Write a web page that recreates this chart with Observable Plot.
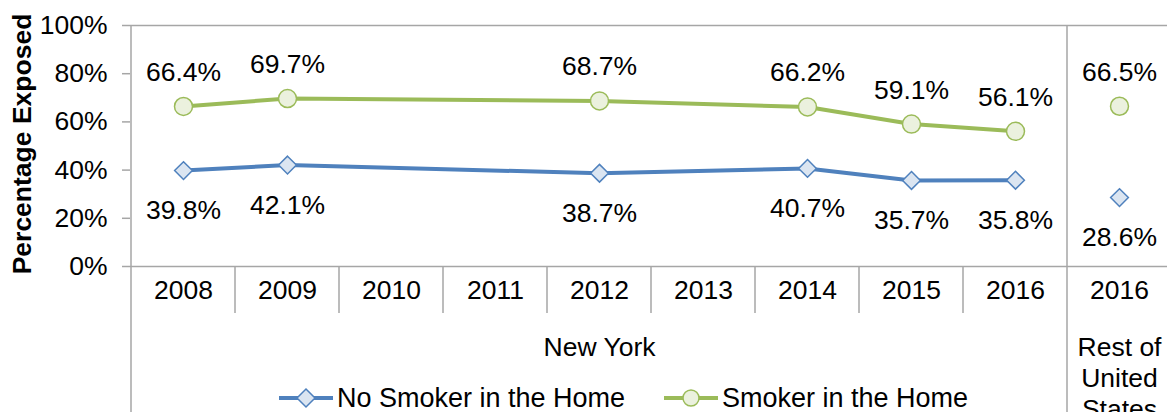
<!DOCTYPE html>
<html><head><meta charset="utf-8">
<script src="https://cdn.jsdelivr.net/npm/d3@7"></script>
<script src="https://cdn.jsdelivr.net/npm/@observablehq/plot@0.6"></script>
<style>
html,body{margin:0;padding:0;background:#fff;overflow:hidden;}
#chart{position:relative;width:1167px;height:412px;font-family:Arial,"Liberation Sans",sans-serif;}
.legend{position:absolute;top:383px;height:30px;font-size:27px;display:flex;align-items:center;white-space:nowrap;color:#000;}
.legend svg{display:block;margin-right:4px;}
</style></head><body><div id="chart"></div>
<script>
// ---- data ----
const categories = ["2008","2009","2010","2011","2012","2013","2014","2015","2016","US2016"];
const categoryLabels = ["2008","2009","2010","2011","2012","2013","2014","2015","2016","2016"];
const nyYears = ["2008","2009","2012","2014","2015","2016"];
const noSmokerNY = [39.8, 42.1, 38.7, 40.7, 35.7, 35.8];
const smokerNY = [66.4, 69.7, 68.7, 66.2, 59.1, 56.1];
const restKey = "US2016";
const noSmokerRest = 28.6;
const smokerRest = 66.5;
const yTicks = [0, 20, 40, 60, 80, 100];
const groupLabels = ["New York", "Rest of\nUnited\nStates"];
const groupCenters = ["2012", "US2016"];
const seriesNames = ["No Smoker in the Home", "Smoker in the Home"];
const yLabel = "Percentage Exposed";

// ---- style ----
const blue = "#4f81bd", blueFill = "#dbe5f1";
const green = "#9bbb59", greenFill = "#ebf1de";
const gray = "#a6a6a6";
const font = 'Arial, "Liberation Sans", sans-serif';
const fs = 26.5;
const yearRow = 47;

const noSmokerLine = nyYears.map((c, i) => ({cat: c, v: noSmokerNY[i]}));
const smokerLine = nyYears.map((c, i) => ({cat: c, v: smokerNY[i]}));
const noSmokerAll = [...noSmokerLine, {cat: restKey, v: noSmokerRest}];
const smokerAll = [...smokerLine, {cat: restKey, v: smokerRest}];

function frameLines(index, scales, values, dims) {
  const {x, y} = scales;
  const g = d3.create("svg:g").attr("stroke", gray).attr("stroke-width", 1.5).attr("fill", "none");
  const top = y(100), base = y(0), bottom = dims.height;
  categories.forEach((c, i) => {
    const px = x(c);
    const full = i === 0 || c === restKey;
    g.append("line").attr("x1", px).attr("x2", px)
      .attr("y1", full ? top : base).attr("y2", full ? bottom : base + yearRow);
  });
  return g.node();
}

const pct = d => d.toFixed(1) + "%";

const plot = Plot.plot({
  width: 1167, height: 412,
  marginLeft: 130, marginRight: 0, marginTop: 25, marginBottom: 146,
  style: {fontFamily: font, fontSize: fs + "px", color: "#000", background: "#fff", overflow: "visible"},
  x: {type: "band", domain: categories, range: [130, 1171], padding: 0, axis: null},
  y: {domain: [0, 100], axis: null},
  marks: [
    Plot.ruleY([0, 100], {stroke: gray, strokeWidth: 1.5}),
    frameLines,
    Plot.axisY({ticks: yTicks, tickSize: 8, tickPadding: 15, tickFormat: d => d + "%", label: null, stroke: gray, strokeWidth: 1.5, fill: "#000", fontSize: fs}),
    Plot.text([yLabel], {frameAnchor: "left", textAnchor: "middle", rotate: -90, dx: -108, dy: -2, fontWeight: "bold", fontSize: fs, fill: "#000"}),
    Plot.line(noSmokerLine, {x: "cat", y: "v", stroke: blue, strokeWidth: 4}),
    Plot.line(smokerLine, {x: "cat", y: "v", stroke: green, strokeWidth: 4}),
    Plot.dot(noSmokerAll, {x: "cat", y: "v", symbol: "diamond2", r: 8, fill: blueFill, stroke: blue, strokeWidth: 1.5}),
    Plot.dot(smokerAll, {x: "cat", y: "v", symbol: "circle", r: 9, fill: greenFill, stroke: green, strokeWidth: 1.5}),
    Plot.text(noSmokerAll, {x: "cat", y: "v", text: d => pct(d.v), dy: 40, fontSize: fs, fill: "#000"}),
    Plot.text(smokerAll, {x: "cat", y: "v", text: d => pct(d.v), dy: -34, fontSize: fs, fill: "#000"}),
    Plot.text(categories, {x: d => d, text: (d, i) => categoryLabels[i], frameAnchor: "bottom", dy: 32, fontSize: fs, fill: "#000"}),
    Plot.text(groupLabels, {x: (d, i) => groupCenters[i], text: d => d, frameAnchor: "bottom", lineAnchor: "top", dy: 67, lineHeight: 1.17, fontSize: fs, fill: "#000"})
  ]
});

const chart = document.getElementById("chart");
chart.appendChild(plot);

// legend
function legendItem(left, name, color, fill, symbol) {
  const div = document.createElement("div");
  div.className = "legend";
  div.style.left = left + "px";
  const s = d3.create("svg").attr("width", 54).attr("height", 24);
  s.append("line").attr("x1", 0).attr("x2", 54).attr("y1", 12).attr("y2", 12).attr("stroke", color).attr("stroke-width", 4);
  if (symbol === "diamond") {
    s.append("path").attr("d", "M27,3L36,12L27,21L18,12Z").attr("fill", fill).attr("stroke", color).attr("stroke-width", 1.5);
  } else {
    s.append("circle").attr("cx", 27).attr("cy", 12).attr("r", 8).attr("fill", fill).attr("stroke", color).attr("stroke-width", 1.5);
  }
  div.appendChild(s.node());
  const t = document.createElement("span");
  t.textContent = name;
  div.appendChild(t);
  chart.appendChild(div);
}
legendItem(279, seriesNames[0], blue, blueFill, "diamond");
legendItem(664, seriesNames[1], green, greenFill, "circle");
</script></body></html>
